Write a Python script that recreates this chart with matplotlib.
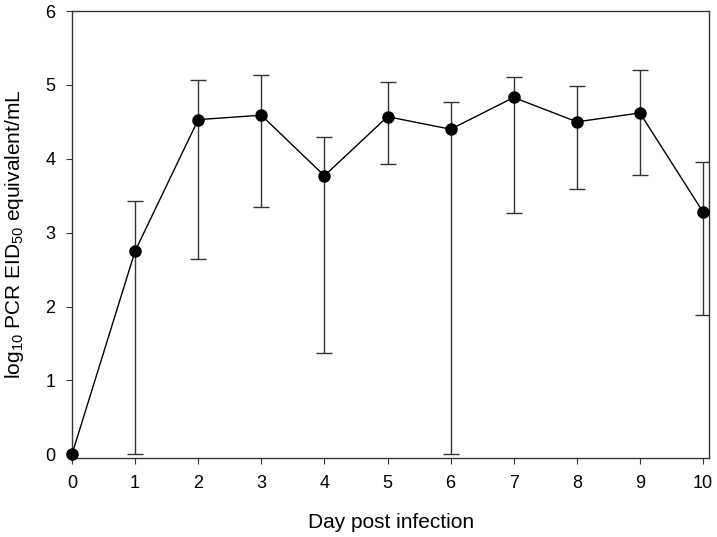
import matplotlib.pyplot as plt
import numpy as np

plt.rcParams['font.family'] = ['Liberation Sans', 'DejaVu Sans']
plt.rcParams['mathtext.fontset'] = 'custom'
plt.rcParams['mathtext.rm'] = 'Liberation Sans'
plt.rcParams['mathtext.it'] = 'Liberation Sans'
plt.rcParams['mathtext.default'] = 'regular'

# Values
days = [0, 1, 2, 3, 4, 5, 6, 7, 8, 9, 10]
means = [0.0, 2.75, 4.53, 4.59, 3.77, 4.57, 4.40, 4.83, 4.50, 4.62, 3.28]
err_low = [np.nan, 0.0, 2.64, 3.35, 1.37, 3.93, 0.0, 3.27, 3.59, 3.78, 1.89]
err_high = [np.nan, 3.43, 5.06, 5.13, 4.29, 5.04, 4.77, 5.11, 4.99, 5.20, 3.96]

fig = plt.figure(figsize=(7.17, 5.37), dpi=100)
ax = fig.add_axes([0.1004, 0.1471, 0.8889, 0.8324])

means_a = np.array(means)
yerr = [means_a - np.array(err_low), np.array(err_high) - means_a]
ax.errorbar(days, means, yerr=yerr, fmt='none', ecolor='#333333',
            elinewidth=1.0, capsize=6, capthick=1.0)
ax.plot(days, means, color='black', linewidth=1.0, marker='o',
        markersize=8, markerfacecolor='black', markeredgecolor='black',
        clip_on=False, zorder=3)

ax.set_xlim(0, 10.1)
ax.set_ylim(-0.05, 6)
ax.set_xticks(range(0, 11))
ax.set_yticks(range(0, 7))
ax.tick_params(direction='out', length=4, width=0.8, labelsize=13, pad=8,
               top=False, right=False, colors='#333333', labelcolor='black')
for s in ax.spines.values():
    s.set_color('#333333')
    s.set_linewidth(1.0)

ax.set_xlabel('Day post infection', fontsize=15, labelpad=15)
ax.set_ylabel(r'log$_{10}$ PCR EID$_{50}$ equivalent/mL', fontsize=15, labelpad=14)

fig.savefig('out.png', dpi=100)
